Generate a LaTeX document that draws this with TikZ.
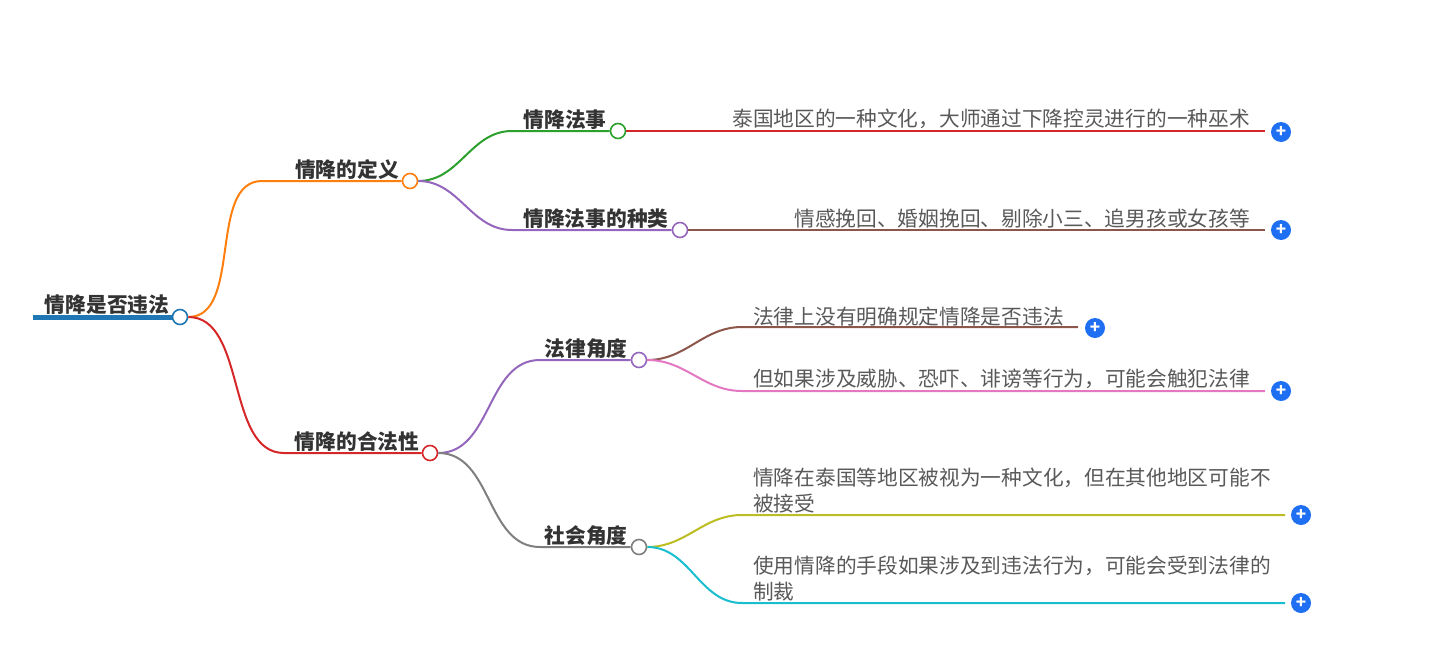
\documentclass[tikz,border=0pt]{standalone}
\usepackage{fontspec}
\setmainfont{Noto Sans CJK SC}
\begin{document}
\begin{tikzpicture}[x=1pt,y=-1pt,
  dot/.style={circle,draw=#1,fill=white,line width=1.6pt,inner sep=0pt,minimum size=15pt},
  br/.style={line width=2pt,#1},
  lbl/.style={font=\fontsize{20.7}{24}\selectfont\bfseries,text=black!80,inner sep=0pt},
  leaf/.style={font=\fontsize{20.7}{25.5}\selectfont,text=black!65,inner sep=0pt,align=left},
  plus/.style={circle,fill=plusblue,text=white,inner sep=0pt,minimum size=20pt,font=\bfseries\fontsize{17}{17}\selectfont}]
\definecolor{cblue}{HTML}{1F77B4}\definecolor{corange}{HTML}{FF7F0E}
\definecolor{cgreen}{HTML}{2CA02C}\definecolor{cred}{HTML}{D62728}
\definecolor{cpurple}{HTML}{9467BD}\definecolor{cbrown}{HTML}{8C564B}
\definecolor{cpink}{HTML}{E377C2}\definecolor{cgray}{HTML}{7F7F7F}
\definecolor{colive}{HTML}{BCBD22}\definecolor{ccyan}{HTML}{17BECF}
\definecolor{plusblue}{HTML}{1F6FF2}
\useasboundingbox (0,0) rectangle (1443,648);
% nodes
\coordinate (r0) at (33,317);
\node[dot=cblue] (r) at (180,317) {};
\draw[line width=5pt,cblue] (r0) -- (r.west);
\node[lbl,anchor=south] at (107,315) {情降是否违法};
\node[dot=corange] (a) at (410,181) {};
\node[dot=cred] (b) at (430,453) {};
\coordinate (a0) at (262,181); \coordinate (b0) at (284,453);
\draw[br=corange] (r.east) to[out=0,in=180,looseness=0.9] (a0) -- (a.west);
\draw[br=cred] (r.east) to[out=0,in=180,looseness=0.9] (b0) -- (b.west);
\node[lbl,anchor=south] at (347,180) {情降的定义};
\node[lbl,anchor=south] at (357,452) {情降的合法性};
% level 2
\node[dot=cgreen] (a1) at (618,131) {};
\node[dot=cpurple] (a2) at (680,230) {};
\coordinate (a10) at (512,131); \coordinate (a20) at (512,230);
\draw[br=cgreen] (a.east) to[out=0,in=180] (a10) -- (a1.west);
\draw[br=cpurple] (a.east) to[out=0,in=180] (a20) -- (a2.west);
\node[lbl,anchor=south] at (565,130) {情降法事};
\node[lbl,anchor=south] at (596,229) {情降法事的种类};
\node[dot=cpurple] (b1) at (639,360) {};
\node[dot=cgray] (b2) at (639,547) {};
\coordinate (b10) at (540,360); \coordinate (b20) at (540,547);
\draw[br=cpurple] (b.east) to[out=0,in=180] (b10) -- (b1.west);
\draw[br=cgray] (b.east) to[out=0,in=180] (b20) -- (b2.west);
\node[lbl,anchor=south] at (586,359) {法律角度};
\node[lbl,anchor=south] at (586,546) {社会角度};
% leaves
\node[plus] (p1) at (1281,132) {+};
\node[plus] (p2) at (1281,230) {+};
\node[plus] (p3) at (1095,328) {+};
\node[plus] (p4) at (1281,391) {+};
\node[plus] (p5) at (1301,515) {+};
\node[plus] (p6) at (1301,603) {+};
\coordinate (e1) at (1265,131); \coordinate (e2) at (1265,230);
\coordinate (e3) at (1078,327); \coordinate (e4) at (1265,391);
\coordinate (e5) at (1285,515); \coordinate (e6) at (1285,603);
\draw[br=cred] (a1.east) -- (e1);
\draw[br=cbrown] (a2.east) -- (e2);
\coordinate (c3) at (742,327); \coordinate (c4) at (742,391);
\coordinate (c5) at (742,515); \coordinate (c6) at (742,603);
\draw[br=cbrown] (b1.east) to[out=0,in=180] (c3) -- (e3);
\draw[br=cpink] (b1.east) to[out=0,in=180] (c4) -- (e4);
\draw[br=colive] (b2.east) to[out=0,in=180] (c5) -- (e5);
\draw[br=ccyan] (b2.east) to[out=0,in=180] (c6) -- (e6);
\node[leaf,anchor=south east] at (1250,129) {泰国地区的一种文化，大师通过下降控灵进行的一种巫术};
\node[leaf,anchor=south east] at (1250,228) {情感挽回、婚姻挽回、剔除小三、追男孩或女孩等};
\node[leaf,anchor=south west] at (753,326) {法律上没有明确规定情降是否违法};
\node[leaf,anchor=south west] at (753,389) {但如果涉及威胁、恐吓、诽谤等行为，可能会触犯法律};
\node[leaf,anchor=south west] at (753,513) {情降在泰国等地区被视为一种文化，但在其他地区可能不\\被接受};
\node[leaf,anchor=south west] at (753,601) {使用情降的手段如果涉及到违法行为，可能会受到法律的\\制裁};
\end{tikzpicture}
\end{document}
